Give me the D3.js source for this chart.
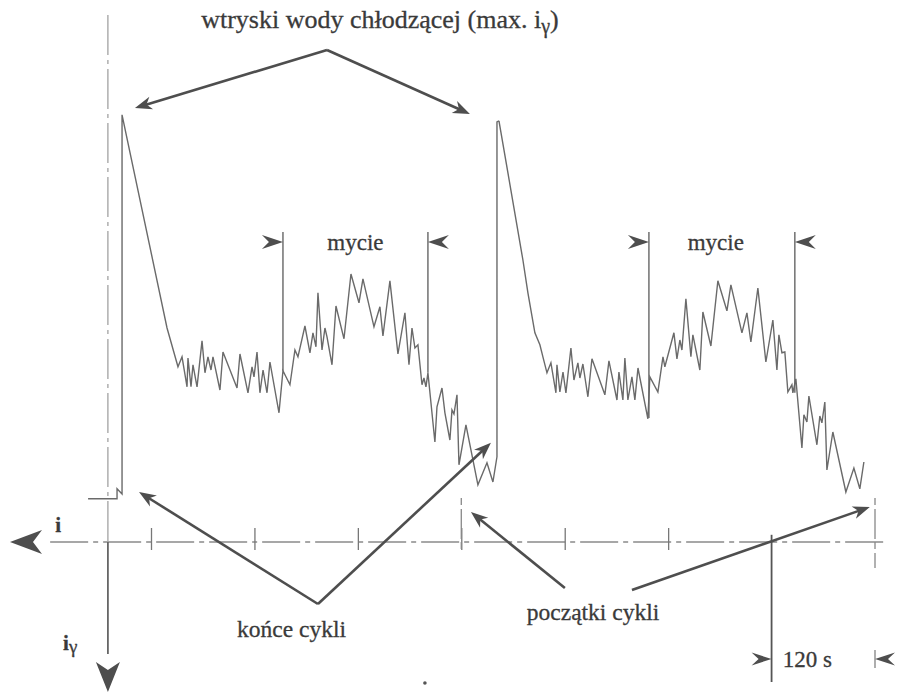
<!DOCTYPE html>
<html>
<head>
<meta charset="utf-8">
<script src="https://cdn.jsdelivr.net/npm/d3@7"></script>
<style>
  body { margin: 0; background: #fff; }
</style>
</head>
<body>
<div id="wykres"></div>
<script>
// czas w sekundach (0 = pierwsza kreska na osi, kreski co 120 s), i_gamma w jednostkach umownych
var czasKreski = [0, 120, 240, 360, 480, 600];
var poczatkiCykli = [360, 840];

// przebieg pradu i_gamma - cykl 1 (od konca poprzedniego cyklu) [t, i]
var cykl1 = [[-73, 10.8], [-39.4, 10.8], [-39.4, 13.3], [-33.6, 12], [-33.6, 106.8],
  [18.6, 53.5], [31.3, 43.8], [36, 46.3], [41.8, 38.8], [42.9, 46], [46.4, 38.8], [48.7, 44.3],
  [53.4, 38.8], [59.2, 50.3], [62.6, 42.3], [66.1, 46.3], [69.6, 43], [71.9, 46.3], [80, 38],
  [83.5, 47.5], [99.8, 38.5], [103.2, 47], [112.5, 37.3], [117.2, 43.8], [119.5, 41.3],
  [123, 47.5], [126.4, 37.3], [130, 43], [134.6, 37.3], [138, 45], [148.5, 32.3], [153.1, 42.8],
  [161.2, 39.3], [167, 48], [170.5, 46.3], [178.6, 54], [184.4, 47.3], [187.9, 52.3],
  [191.4, 48.8], [193.7, 62.3], [198.4, 48], [201.8, 53.5], [204.2, 51.3], [210, 44.3],
  [214.6, 59], [223.9, 50.8], [232, 67], [241.3, 59.8], [245.9, 65.8], [258.7, 53.8],
  [265.6, 58.8], [269.1, 51.5], [277.2, 65.3], [286.5, 47], [294.6, 57.3], [299.3, 44.3],
  [302.8, 53.5], [306.2, 48.5], [309.7, 49.3], [314.4, 39.3], [316.7, 41], [319, 38.8],
  [321.3, 42.3], [329.4, 25], [331.8, 33.8], [337.6, 38.5], [341, 32.3], [346.8, 25.5],
  [349.2, 33], [351.5, 32], [355, 36.8], [357.3, 19.3], [365.4, 29.3], [379.3, 14.3],
  [389.8, 19.8], [396.7, 15], [401.4, 21.3], [401.4, 105], [403.7, 105.3]];

// cykl 2
var cykl2 = [[403.7, 105.3], [431.5, 70.5], [437.3, 62.3], [445.4, 52.3], [451.2, 49.3],
  [454.7, 46.3], [459.4, 42.3], [464, 44.8], [469.8, 37.3], [471, 44.3], [474.4, 37.5],
  [478, 42.5], [481.4, 37.3], [487.2, 48.5], [490.7, 40.5], [495.3, 44.8], [497.6, 41],
  [501.1, 44.5], [506.9, 36.3], [511.6, 45.8], [526.6, 36.8], [531.3, 45.3], [540.6, 35.5],
  [542.9, 42.5], [547.5, 35.5], [549.8, 46], [553.3, 35.5], [558, 41.3], [561.4, 35.5],
  [565, 43.5], [576.5, 30.8], [578.8, 41.3], [588.1, 37.5], [594, 46.3], [596.2, 43.8],
  [606.7, 52.3], [610.2, 45.8], [613.6, 50.5], [616, 48], [620.6, 60.8], [626.4, 46.3],
  [628.7, 51.8], [636.8, 43], [640.3, 57.5], [649.6, 49], [657.7, 65.3], [668.2, 57.8],
  [672.8, 64.3], [685.6, 52.3], [691.4, 57.3], [696, 50], [704.1, 63.5], [713.4, 45],
  [721.5, 55.5], [726.2, 43], [728.5, 51.8], [732, 47.3], [735.4, 47.5], [738.9, 37.5],
  [743.6, 39.3], [744.7, 37.3], [748.2, 40.8], [755.2, 23.5], [757.5, 31.8], [761, 30],
  [763.3, 36.5], [772.6, 24.3], [776, 31.5], [778.4, 29.8], [781.8, 35], [784.2, 18],
  [791.1, 27.5], [806.2, 12.5], [815.5, 18.5], [822.4, 13.3], [827.1, 20]];

// mycie: [poczatek, koniec] i wartosc pradu w tych chwilach
var mycieStart = [153.1, 577.7];
var mycieKoniec = [321.3, 747];
var mycieStartI = [42.8, 31];
var mycieKoniecI = [42.3, 37.3];

var width = 900, height = 693;
var czcionka = "'Liberation Serif', 'Times New Roman', 'DejaVu Serif', serif";

var svg = d3.select("#wykres").append("svg")
    .attr("width", width).attr("height", height)
    .attr("font-family", czcionka);

var x = d3.scaleLinear().domain([0, 840]).range([151, 875]);
var y = d3.scaleLinear().domain([0, 100]).range([542, 142]);

var ciemny = "#4e4e4e";
var kolorTekstu = "#3a3a3a";

// grot strzalki (ostrze w x2,y2)
function grot(x1, y1, x2, y2, L, W, n) {
    var a = Math.atan2(y2 - y1, x2 - x1), c = Math.cos(a), s = Math.sin(a);
    var bx = x2 - L * c, by = y2 - L * s;
    return "M" + x2 + "," + y2 +
        "L" + (bx - W * s) + "," + (by + W * c) +
        "L" + (x2 - (L - n) * c) + "," + (y2 - (L - n) * s) +
        "L" + (bx + W * s) + "," + (by - W * c) + "Z";
}

function napis(t, v, rozmiar) {
    return svg.append("text").attr("x", x(t)).attr("y", y(v))
        .attr("font-family", czcionka).attr("font-size", rozmiar)
        .attr("fill", kolorTekstu)
        .attr("stroke", kolorTekstu).attr("stroke-width", 0.3);
}

// ********** osie **********
svg.append("line")
    .attr("x1", x(-117)).attr("x2", x(851.5)).attr("y1", y(0)).attr("y2", y(0))
    .attr("stroke", "#8a8a8a").attr("stroke-width", 1.3)
    .attr("stroke-dasharray", "38,5,5,5");
svg.append("path")
    .attr("d", grot(x(0), y(0), x(-163.6), y(0), 32, 12, 9))
    .attr("fill", ciemny);

svg.append("line")
    .attr("x1", x(-50)).attr("x2", x(-50)).attr("y1", y(131.75)).attr("y2", y(0))
    .attr("stroke", "#9a9a9a").attr("stroke-width", 1.2)
    .attr("stroke-dasharray", "40,5,4,5");
svg.append("line")
    .attr("x1", x(-50)).attr("x2", x(-50)).attr("y1", y(0)).attr("y2", y(-28))
    .attr("stroke", "#666").attr("stroke-width", 1.8);
svg.append("path")
    .attr("d", grot(x(-50), y(0), x(-50), y(-37.5), 30, 12, 8))
    .attr("fill", ciemny);

var os = svg.append("g")
    .attr("transform", "translate(0," + y(3.5) + ")")
    .call(d3.axisBottom(x).tickValues(czasKreski).tickSize(y(-2) - y(3.5)).tickFormat(""));
os.select(".domain").remove();
os.selectAll("line").attr("stroke", "#777").attr("stroke-width", 1.3);

// poczatki cykli - przedluzone kreski
svg.selectAll(".poczatek").data(poczatkiCykli).enter().append("line")
    .attr("x1", function (d) { return x(d); }).attr("x2", function (d) { return x(d); })
    .attr("y1", y(11)).attr("y2", function (d, i) { return i == 0 ? y(-2) : y(-6.5); })
    .attr("stroke", "#888").attr("stroke-width", 1.3)
    .attr("stroke-dasharray", "7,4,30,3");

// 120 s
svg.append("line")
    .attr("x1", x(720)).attr("x2", x(720)).attr("y1", y(1.8)).attr("y2", y(-35))
    .attr("stroke", "#555").attr("stroke-width", 1.8);
svg.append("line")
    .attr("x1", x(840)).attr("x2", x(840)).attr("y1", y(-27)).attr("y2", y(-31.5))
    .attr("stroke", "#777").attr("stroke-width", 1.2);
svg.append("path").attr("d", grot(x(700), y(-29.25), x(720), y(-29.25), 20, 6.5, 7)).attr("fill", ciemny);
svg.append("path").attr("d", grot(x(860), y(-29.25), x(840), y(-29.25), 20, 6.5, 7)).attr("fill", ciemny);
napis(733, -31.25, "23px").text("120 s");

// ********** przebiegi **********
var linia = d3.line().x(function (d) { return x(d[0]); }).y(function (d) { return y(d[1]); });

svg.append("path").datum(cykl1).attr("d", linia)
    .attr("fill", "none").attr("stroke", "#6a6a6a").attr("stroke-width", 1.4)
    .attr("stroke-linejoin", "miter");
svg.append("path").datum(cykl2).attr("d", linia)
    .attr("fill", "none").attr("stroke", "#6a6a6a").attr("stroke-width", 1.4)
    .attr("stroke-linejoin", "miter");

// ********** mycie **********
var mycieGora = 77.5, mycieGrot = 75;
[0, 1].forEach(function (i) {
    [[mycieStart[i], mycieStartI[i], 1], [mycieKoniec[i], mycieKoniecI[i], -1]].forEach(function (m) {
        svg.append("line")
            .attr("x1", x(m[0])).attr("x2", x(m[0]))
            .attr("y1", y(mycieGora)).attr("y2", y(m[1]))
            .attr("stroke", "#666").attr("stroke-width", 1.4);
        svg.append("path")
            .attr("d", grot(x(m[0]) - m[2] * 20, y(mycieGrot), x(m[0]), y(mycieGrot), 21, 7, 7))
            .attr("fill", ciemny);
    });
    napis((mycieStart[i] + mycieKoniec[i]) / 2 + (i == 0 ? 0 : -7), 73, "23px")
        .attr("text-anchor", "middle").text("mycie");
});

// ********** opisy ze strzalkami **********
function strzalka(t1, v1, t2, v2) {
    var a = Math.atan2(y(v2) - y(v1), x(t2) - x(t1));
    svg.append("line")
        .attr("x1", x(t1)).attr("y1", y(v1))
        .attr("x2", x(t2) - 8 * Math.cos(a))
        .attr("y2", y(v2) - 8 * Math.sin(a))
        .attr("stroke", ciemny).attr("stroke-width", 2.6);
    svg.append("path").attr("d", grot(x(t1), y(v1), x(t2), y(v2), 17, 6.5, 5)).attr("fill", ciemny);
}

// wtryski wody
strzalka(204.2, 123, -18.6, 108.5);
strzalka(204.2, 123, 370, 107);
var tyt = napis(265.6, 128.5, "26px").attr("text-anchor", "middle");
tyt.append("tspan").text("wtryski wody chłodzącej (max. i");
tyt.append("tspan").attr("font-size", "20px").attr("dy", 5).text("γ");
tyt.append("tspan").attr("dy", -5).text(")");

// konce cykli
strzalka(193.7, -15.5, -13.9, 12.5);
strzalka(193.7, -15.5, 394.4, 24.8);
napis(99.8, -23.75, "23.5px").text("końce cykli");

// poczatki cykli
strzalka(480.2, -11.5, 371.2, 7.5);
strzalka(558, -12, 834, 8.75);
napis(436, -19.5, "23.5px").text("początki cykli");

// oznaczenia osi
napis(-111, 2.5, "21px").attr("font-weight", "bold").text("i");
var ig = napis(-102, -27, "21px").attr("font-weight", "bold");
ig.append("tspan").text("i");
ig.append("tspan").attr("font-size", "19px").attr("font-weight", "normal").attr("dy", 3).text("γ");

// plamka ze skanu
svg.append("circle").attr("cx", x(317.8)).attr("cy", y(-35.25)).attr("r", 1.8).attr("fill", "#555");
</script>
</body>
</html>
